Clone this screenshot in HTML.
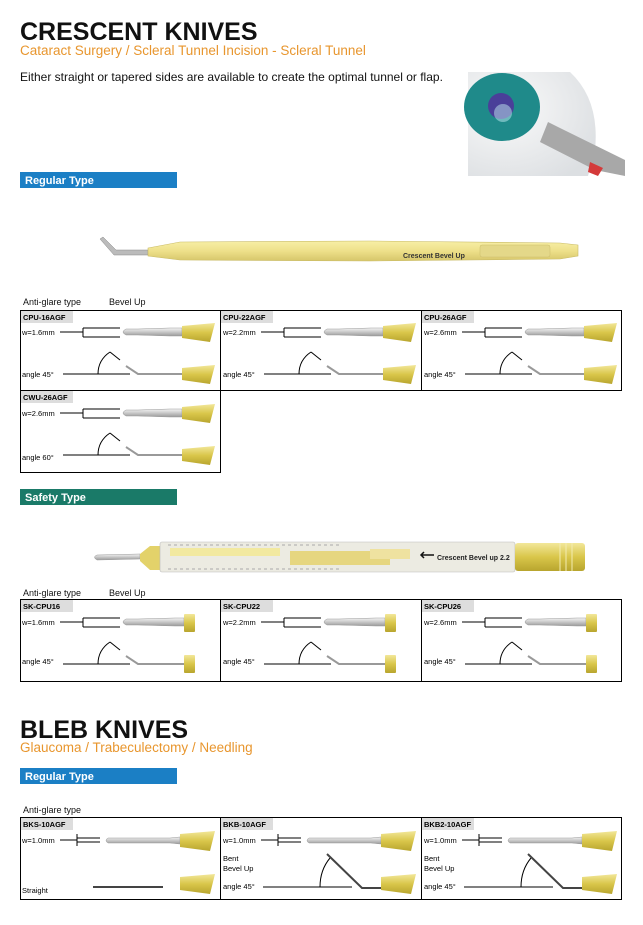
<!DOCTYPE html>
<html><head><meta charset="utf-8">
<style>
html,body{margin:0;padding:0;background:#fff;width:643px;height:925px;overflow:hidden}
svg{display:block}
text{font-family:"Liberation Sans",Arial,sans-serif}
</style></head><body>
<svg width="643" height="925" viewBox="0 0 643 925" xmlns="http://www.w3.org/2000/svg">
<defs>
<linearGradient id="gold" x1="0" y1="0" x2="0" y2="1">
<stop offset="0" stop-color="#f2e79a"/><stop offset=".5" stop-color="#d9c64a"/><stop offset="1" stop-color="#b8a52e"/></linearGradient>
<linearGradient id="steel" x1="0" y1="0" x2="0" y2="1">
<stop offset="0" stop-color="#f4f4f4"/><stop offset=".5" stop-color="#c8c8c8"/><stop offset="1" stop-color="#9a9a9a"/></linearGradient>
<linearGradient id="yel" x1="0" y1="0" x2="0" y2="1">
<stop offset="0" stop-color="#f7efa6"/><stop offset=".5" stop-color="#eee08a"/><stop offset="1" stop-color="#d6c66a"/></linearGradient>
<radialGradient id="sclera" cx=".3" cy=".35" r=".8">
<stop offset="0" stop-color="#fafafa"/><stop offset="1" stop-color="#dcdfe2"/></radialGradient>
<g id="crescent">
<line x1="40" y1="20" x2="63" y2="20" stroke="#000" stroke-width="1"/>
<line x1="63" y1="16" x2="63" y2="25" stroke="#000"/>
<path d="M63 16 H100 M63 25 H100" stroke="#000" fill="none"/>
<path d="M106 17 Q100 20 106 23 H118 L150 24 H162 V16 H150 L118 17 Z" fill="url(#steel)" stroke="#999" stroke-width=".5"/>
<path d="M162 14 L195 11 L190 30 L162 26 Z" fill="url(#gold)"/>
<line x1="43" y1="62" x2="110" y2="62" stroke="#000"/>
<path d="M78 62 Q78 48 90 40" stroke="#000" fill="none"/>
<line x1="90" y1="40" x2="100" y2="48" stroke="#000"/>
<path d="M106 54 L118 62 H164" stroke="#999" stroke-width="2" fill="none"/>
<path d="M162 56 L195 53 L190 72 L162 68 Z" fill="url(#gold)"/>
</g>
<g id="safety">
<line x1="40" y1="20" x2="63" y2="20" stroke="#000"/>
<line x1="63" y1="16" x2="63" y2="25" stroke="#000"/>
<path d="M63 16 H100 M63 25 H100" stroke="#000" fill="none"/>
<path d="M106 17 Q100 20 106 23 H118 L155 24 H164 V16 H155 L118 17 Z" fill="url(#steel)" stroke="#999" stroke-width=".5"/>
<rect x="164" y="12" width="11" height="18" rx="1" fill="url(#gold)"/>
<line x1="43" y1="62" x2="110" y2="62" stroke="#000"/>
<path d="M78 62 Q78 48 90 40" stroke="#000" fill="none"/>
<line x1="90" y1="40" x2="100" y2="48" stroke="#000"/>
<path d="M106 54 L118 62 H164" stroke="#999" stroke-width="2" fill="none"/>
<rect x="164" y="53" width="11" height="18" rx="1" fill="url(#gold)"/>
</g>
<g id="blebtop">
<line x1="40" y1="19" x2="57" y2="19" stroke="#000"/>
<line x1="57" y1="13" x2="57" y2="25" stroke="#000"/>
<path d="M57 17 H80 M57 21 H80" stroke="#000" fill="none"/>
<path d="M88 17 Q84 19.5 88 22 H150 L160 23 V16 L150 17 Z" fill="url(#steel)" stroke="#999" stroke-width=".5"/>
<path d="M160 13 L195 10 L190 30 L160 26 Z" fill="url(#gold)"/>
</g>
<path id="bh" d="M160 56 L195 53 L190 73 L160 69 Z" fill="url(#gold)"/>
</defs>

<text x="20" y="40" font-size="25" font-weight="bold" fill="#111">CRESCENT KNIVES</text>
<text x="20" y="55" font-size="13.5" fill="#e8962e">Cataract Surgery / Scleral Tunnel Incision - Scleral Tunnel</text>
<text x="20" y="81" font-size="12" fill="#111">Either straight or tapered sides are available to create the optimal tunnel or flap.</text>

<!-- eye image -->
<g>
<rect x="468" y="70" width="157" height="106" fill="#fff"/>
<path d="M468 72 H570 Q600 100 595 150 L588 176 H468 Z" fill="url(#sclera)"/>
<ellipse cx="502" cy="107" rx="38" ry="34" fill="#1f8a8a"/>
<circle cx="501" cy="106" r="13" fill="#4a3f99"/>
<circle cx="503" cy="113" r="9" fill="#bfeaf0" opacity=".5"/>
<path d="M548 122 L560 128 L625 160 L625 176 L595 170 L540 142 Z" fill="#a8a8a8"/>
<path d="M590 162 L603 168 L598 176 L588 172 Z" fill="#d43a3a"/>
</g>

<rect x="20" y="172" width="157" height="16" fill="#1b7fc5"/>
<text x="25" y="184" font-size="11" font-weight="bold" fill="#fff">Regular Type</text>

<path d="M100 239 L103 237 L116 250 L148 250 V255 L114 255 Z" fill="#bbb" stroke="#888" stroke-width=".5"/>
<path d="M148 248 L180 242 L370 241 L560 243 L578 245 V256 L560 259 L370 261 L180 260 L148 256 Z" fill="url(#yel)" stroke="#c9bb66" stroke-width=".6"/>
<rect x="480" y="245" width="70" height="12" rx="2" fill="#e4d889" stroke="#cbbd6a" stroke-width=".5"/>
<text x="403" y="258" font-size="7" font-weight="bold" fill="#333">Crescent Bevel Up</text>

<text x="23" y="305" font-size="9" fill="#111">Anti-glare type</text>
<text x="109" y="305" font-size="9" fill="#111">Bevel Up</text>

<g fill="none" stroke="#000" stroke-width="1">
<path d="M20.5 310.5 H621.5 V390.5 H20.5 Z M220.5 310.5 V390.5 M421.5 310.5 V390.5 M20.5 390.5 V472.5 H220.5 V390.5"/>
</g>
<g font-size="7.5">
<rect x="21" y="311" width="52" height="12" fill="#ddd"/><text x="23" y="320" font-weight="bold">CPU-16AGF</text>
<text x="22" y="335">w=1.6mm</text><text x="22" y="377">angle 45°</text>
<use href="#crescent" x="20" y="312"/>
<rect x="221" y="311" width="52" height="12" fill="#ddd"/><text x="223" y="320" font-weight="bold">CPU-22AGF</text>
<text x="223" y="335">w=2.2mm</text><text x="223" y="377">angle 45°</text>
<use href="#crescent" x="221" y="312"/>
<rect x="422" y="311" width="52" height="12" fill="#ddd"/><text x="424" y="320" font-weight="bold">CPU-26AGF</text>
<text x="424" y="335">w=2.6mm</text><text x="424" y="377">angle 45°</text>
<use href="#crescent" x="422" y="312"/>
<rect x="21" y="391" width="52" height="12" fill="#ddd"/><text x="23" y="400" font-weight="bold">CWU-26AGF</text>
<text x="22" y="416">w=2.6mm</text><text x="22" y="460">angle 60°</text>
<use href="#crescent" x="20" y="393"/>
</g>

<rect x="20" y="489" width="157" height="16" fill="#1a7a68"/>
<text x="25" y="501" font-size="11" font-weight="bold" fill="#fff">Safety Type</text>

<path d="M97 555 Q92 557 97 560 L140 559 V554 Z" fill="url(#steel)" stroke="#999" stroke-width=".5"/>
<path d="M140 554 L150 546 H160 V570 H150 L140 561 Z" fill="#e3d26a"/>
<rect x="160" y="542" width="355" height="30" rx="2" fill="#ecebe2" stroke="#bbb" stroke-width=".6"/>
<rect x="170" y="548" width="110" height="8" fill="#f2e9a0"/>
<rect x="290" y="551" width="100" height="14" fill="#e6d680"/>
<rect x="370" y="549" width="40" height="10" fill="#efe2a0"/>
<path d="M168 545 H340 M168 569 H340" stroke="#aaa" stroke-dasharray="3 3"/>
<text x="437" y="560" font-size="7" font-weight="bold" fill="#222">Crescent Bevel up 2.2</text>
<path d="M434 555 L422 555 M424 552 L421 555 L424 558" stroke="#111" stroke-width="1.5" fill="none"/>
<rect x="515" y="543" width="70" height="28" rx="3" fill="url(#gold)"/>
<path d="M560 543 V571 M566 543 V571 M572 543 V571" stroke="#f3ecb0"/>

<text x="23" y="596" font-size="9" fill="#111">Anti-glare type</text>
<text x="109" y="596" font-size="9" fill="#111">Bevel Up</text>

<path d="M20.5 599.5 H621.5 V681.5 H20.5 Z M220.5 599.5 V681.5 M421.5 599.5 V681.5" fill="none" stroke="#000"/>
<g font-size="7.5">
<rect x="21" y="600" width="52" height="12" fill="#ddd"/><text x="23" y="609" font-weight="bold">SK-CPU16</text>
<text x="22" y="625">w=1.6mm</text><text x="22" y="664">angle 45°</text>
<use href="#safety" x="20" y="602"/>
<rect x="221" y="600" width="52" height="12" fill="#ddd"/><text x="223" y="609" font-weight="bold">SK-CPU22</text>
<text x="223" y="625">w=2.2mm</text><text x="223" y="664">angle 45°</text>
<use href="#safety" x="221" y="602"/>
<rect x="422" y="600" width="52" height="12" fill="#ddd"/><text x="424" y="609" font-weight="bold">SK-CPU26</text>
<text x="424" y="625">w=2.6mm</text><text x="424" y="664">angle 45°</text>
<use href="#safety" x="422" y="602"/>
</g>

<text x="20" y="738" font-size="25" font-weight="bold" fill="#111">BLEB KNIVES</text>
<text x="20" y="752" font-size="13.5" fill="#e8962e">Glaucoma / Trabeculectomy / Needling</text>
<rect x="20" y="768" width="157" height="16" fill="#1b7fc5"/>
<text x="25" y="780" font-size="11" font-weight="bold" fill="#fff">Regular Type</text>
<text x="23" y="813" font-size="9" fill="#111">Anti-glare type</text>

<path d="M20.5 817.5 H621.5 V899.5 H20.5 Z M220.5 817.5 V899.5 M421.5 817.5 V899.5" fill="none" stroke="#000"/>
<g font-size="7.5">
<rect x="21" y="818" width="52" height="12" fill="#ddd"/><text x="23" y="827" font-weight="bold">BKS-10AGF</text>
<text x="22" y="843">w=1.0mm</text><text x="22" y="893">Straight</text>
<use href="#blebtop" x="20" y="821"/>
<path d="M93 887 H163" stroke="#444" stroke-width="2"/>
<use href="#bh" x="20" y="821"/>

<rect x="221" y="818" width="52" height="12" fill="#ddd"/><text x="223" y="827" font-weight="bold">BKB-10AGF</text>
<text x="223" y="843">w=1.0mm</text><text x="223" y="861">Bent</text><text x="223" y="871">Bevel Up</text><text x="223" y="889">angle 45°</text>
<use href="#blebtop" x="221" y="821"/>
<path d="M263 887 H352" stroke="#000"/>
<path d="M320 887 Q320 870 330 858" stroke="#000" fill="none"/>
<path d="M327 854 L362 888 H384" stroke="#444" stroke-width="2" fill="none"/>
<use href="#bh" x="221" y="821"/>

<rect x="422" y="818" width="52" height="12" fill="#ddd"/><text x="424" y="827" font-weight="bold">BKB2-10AGF</text>
<text x="424" y="843">w=1.0mm</text><text x="424" y="861">Bent</text><text x="424" y="871">Bevel Up</text><text x="424" y="889">angle 45°</text>
<use href="#blebtop" x="422" y="821"/>
<path d="M464 887 H553" stroke="#000"/>
<path d="M521 887 Q521 870 531 858" stroke="#000" fill="none"/>
<path d="M528 854 L563 888 H585" stroke="#444" stroke-width="2" fill="none"/>
<use href="#bh" x="422" y="821"/>
</g>
</svg>
</body></html>
